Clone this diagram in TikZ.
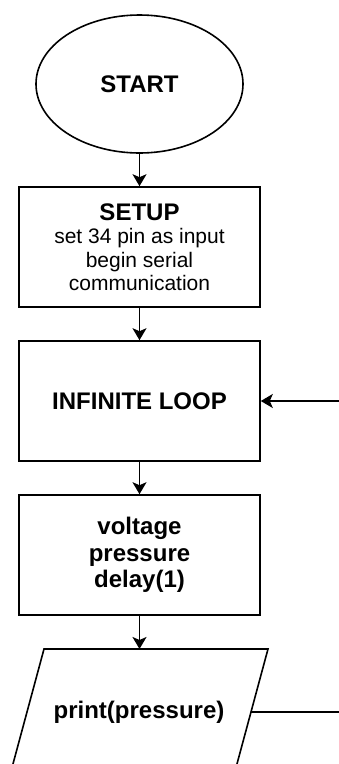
\documentclass[tikz,border=0pt]{standalone}
\usepackage{fontspec}
\setmainfont{Liberation Sans}
\usetikzlibrary{shapes.geometric,arrows.meta}
\begin{document}
\begin{tikzpicture}[x=1pt,y=-1pt]
\tikzstyle{every node}+=[inner sep=0pt,align=center]
\tikzstyle{block}=[draw,line width=1.6pt,minimum width=241pt,minimum height=120pt]
\tikzstyle{flow}=[line width=1.6pt,-{Stealth[length=12pt,width=14pt,inset=3pt]}]
\tikzstyle{bold}=[font=\bfseries\fontsize{24}{26.5}\selectfont]
\clip (0,0) rectangle (339,764);
\fill [white] (0,0) rectangle (339,764);
% shapes
\node [draw,ellipse,line width=1.6pt,minimum width=207pt,minimum height=138pt,bold] (start) at (139.5,84) {START};
\node [block,font=\fontsize{21}{23.5}\selectfont] (setup) at (139.5,247)
  {{\bfseries\fontsize{24}{26}\selectfont SETUP}\\set 34 pin as input\\begin serial\\communication};
\node [block,bold] (loop) at (139.5,401) {INFINITE LOOP};
\node [block,bold] (read) at (139.5,555) {voltage\\pressure\\delay(1)};
% output parallelogram
\draw [line width=1.6pt,line join=miter] (44,649) -- (268,649) -- (234,775) -- (10,775) -- cycle;
\node [bold] (print) at (139,712) {print(pressure)};
\coordinate (printtop) at (139.5,649);
\coordinate (printside) at (251,712);
\coordinate (back) at (339,401);
\coordinate (out) at (339,712);
% connectors
\draw [flow] (start) -- (setup);
\draw [flow] (setup) -- (loop);
\draw [flow] (loop) -- (read);
\draw [flow] (read) -- (printtop);
\draw [flow] (back) -- (loop.east);
\draw [line width=1.6pt] (printside) -- (out);
\end{tikzpicture}
\end{document}
